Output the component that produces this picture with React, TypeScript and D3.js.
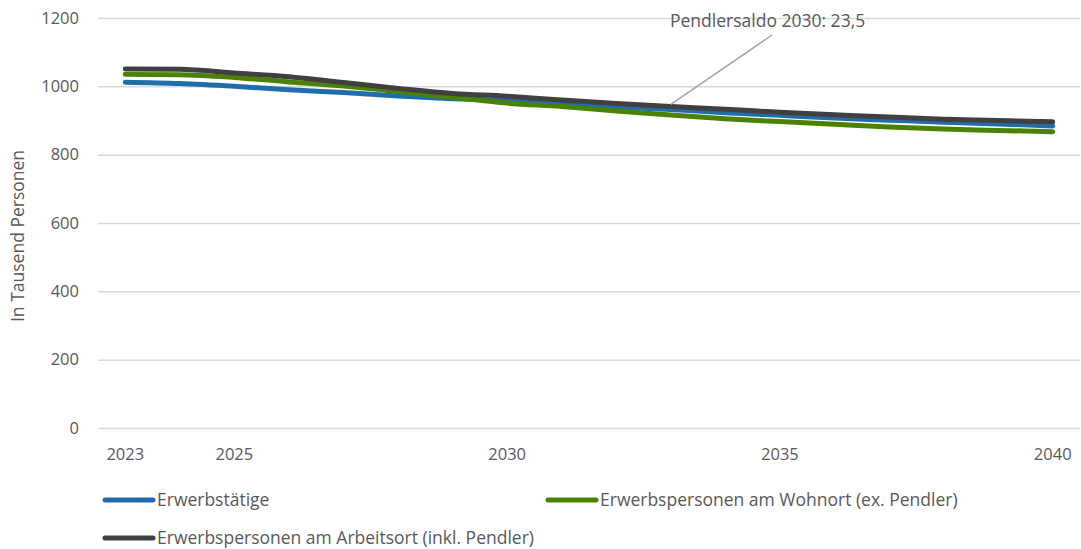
// @ts-nocheck
import React, { useEffect, useRef } from "react";
import * as d3 from "d3";

const years = [2023, 2024, 2025, 2026, 2027, 2028, 2029, 2030, 2031, 2032, 2033, 2034, 2035, 2036, 2037, 2038, 2039, 2040];
const labeledYears = [2023, 2025, 2030, 2035, 2040];
const yTicks = [0, 200, 400, 600, 800, 1000, 1200];

const erwerbstaetige = [1012, 1008, 1000, 990, 982, 972, 964, 959, 951, 940, 932, 923, 915, 907, 901, 895, 890, 884];
const wohnort = [1035, 1034, 1026, 1013, 1001, 985, 968, 951, 941, 928, 916, 905, 897, 889, 881, 875, 871, 867];
const arbeitsort = [1051, 1050, 1039, 1028, 1011, 994, 979, 971, 960, 950, 941, 933, 924, 917, 910, 904, 900, 896];

const seriesNames = [
  "Erwerbstätige",
  "Erwerbspersonen am Wohnort (ex. Pendler)",
  "Erwerbspersonen am Arbeitsort (inkl. Pendler)",
];
const seriesColors = ["#1f6ea9", "#4a8200", "#404040"];

const annotationText = "Pendlersaldo 2030: 23,5";

const Chart = () => {
  const svgRef = useRef();

  useEffect(() => {
    const width = 1081;
    const height = 549;
    const margin = { top: 18, right: 1, bottom: 121, left: 98 };
    const font = "'Open Sans', sans-serif";
    const textColor = "#595959";

    const svg = d3.select(svgRef.current);
    svg.selectAll("*").remove();
    svg.attr("width", width).attr("height", height);

    const x = d3
      .scaleBand()
      .domain(years)
      .range([margin.left, width - margin.right]);
    const cx = (yr) => x(yr) + x.bandwidth() / 2;

    const y = d3
      .scaleLinear()
      .domain([0, 1200])
      .range([height - margin.bottom, margin.top]);

    // gridlines
    svg
      .append("g")
      .selectAll("line")
      .data(yTicks)
      .enter()
      .append("line")
      .attr("x1", margin.left)
      .attr("x2", width - margin.right)
      .attr("y1", (d) => y(d) + 0.5)
      .attr("y2", (d) => y(d) + 0.5)
      .style("stroke", "#d9d9d9")
      .style("stroke-width", 1.5);

    // y tick labels
    svg
      .append("g")
      .selectAll("text")
      .data(yTicks)
      .enter()
      .append("text")
      .attr("x", 79)
      .attr("y", (d) => y(d))
      .attr("dy", "0.35em")
      .style("text-anchor", "end")
      .style("font-family", font)
      .style("font-size", "16.5px")
      .style("fill", textColor)
      .text((d) => d);

    // y axis title
    svg
      .append("text")
      .attr("transform", `translate(24,${236}) rotate(-90)`)
      .style("text-anchor", "middle")
      .style("font-family", font)
      .style("font-size", "17.5px")
      .style("fill", textColor)
      .text("In Tausend Personen");

    // x tick labels
    svg
      .append("g")
      .selectAll("text")
      .data(labeledYears)
      .enter()
      .append("text")
      .attr("x", (d) => cx(d))
      .attr("y", 460)
      .style("text-anchor", "middle")
      .style("font-family", font)
      .style("font-size", "16.5px")
      .style("fill", textColor)
      .text((d) => d);

    // lines
    const allSeries = [erwerbstaetige, wohnort, arbeitsort];
    const line = d3
      .line()
      .x((d, i) => cx(years[i]))
      .y((d) => y(d))
      .curve(d3.curveMonotoneX);

    allSeries.forEach((values, i) => {
      svg
        .append("path")
        .datum(values)
        .attr("d", line)
        .style("fill", "none")
        .style("stroke", seriesColors[i])
        .style("stroke-width", 5)
        .style("stroke-linecap", "round")
        .style("stroke-linejoin", "round");
    });

    // annotation
    const ax = cx(2033);
    const ay = y(arbeitsort[10]) - 2;
    svg
      .append("line")
      .attr("x1", ax)
      .attr("y1", ay)
      .attr("x2", 772)
      .attr("y2", 35)
      .style("stroke", "#a6a6a6")
      .style("stroke-width", 1.5);
    svg
      .append("text")
      .attr("x", 670)
      .attr("y", 27)
      .style("font-family", font)
      .style("font-size", "17.5px")
      .style("fill", textColor)
      .text(annotationText);

    // legend
    const legendPos = [
      [105, 500],
      [548, 500],
      [105, 538],
    ];
    seriesNames.forEach((name, i) => {
      const [lx, ly] = legendPos[i];
      svg
        .append("line")
        .attr("x1", lx)
        .attr("x2", lx + 48)
        .attr("y1", ly)
        .attr("y2", ly)
        .style("stroke", seriesColors[i])
        .style("stroke-width", 5)
        .style("stroke-linecap", "round");
      svg
        .append("text")
        .attr("x", lx + 52)
        .attr("y", ly)
        .attr("dy", "0.35em")
        .style("font-family", font)
        .style("font-size", "17.5px")
        .style("fill", textColor)
        .text(name);
    });
  }, []);

  return <svg ref={svgRef} style={{ position: "absolute", left: 0, top: 0 }}></svg>;
};

export default function App() {
  return <Chart />;
}
